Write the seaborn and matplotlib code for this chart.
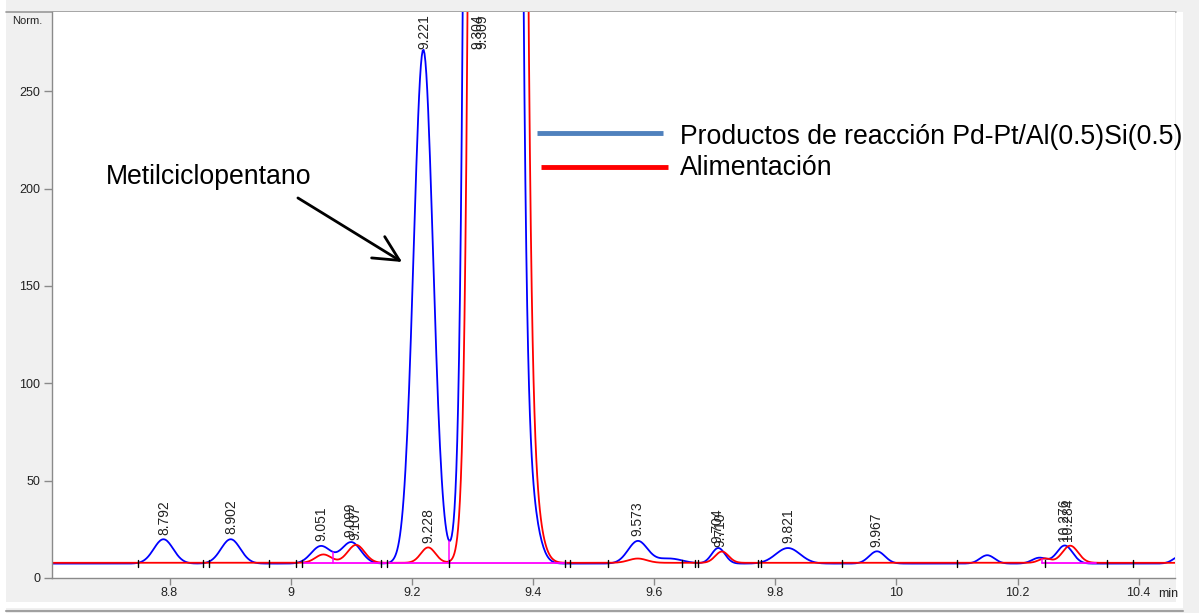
import numpy as np
import pandas as pd
import matplotlib
matplotlib.use("Agg")
import matplotlib.pyplot as plt
from matplotlib.lines import Line2D
from matplotlib.patches import Rectangle
import seaborn as sns

# ---- peak tables (retention time [min], height above baseline, width sigma [min]) ----
blue_rt = [8.790, 8.901, 9.050, 9.100, 9.219, 9.334, 9.390, 9.573, 9.625, 9.706,
           9.821, 9.968, 10.150, 10.236, 10.278, 10.470]
blue_h = [12.5, 12.5, 9.0, 11.0, 264.0, 13400.0, 35.0, 11.5, 2.6, 8.0,
          8.0, 6.3, 4.3, 3.0, 9.3, 4.0]
blue_w = [0.016, 0.016, 0.016, 0.016, 0.016, 0.018, 0.016, 0.016, 0.022, 0.011,
          0.020, 0.013, 0.012, 0.012, 0.013, 0.012]
blue_base = 7.4

red_rt = [9.054, 9.108, 9.227, 9.342, 9.394, 9.573, 9.712, 10.245, 10.287]
red_h = [4.3, 9.2, 7.9, 13400.0, 35.0, 2.2, 5.8, 2.2, 8.8]
red_w = [0.013, 0.014, 0.012, 0.018, 0.016, 0.015, 0.011, 0.010, 0.013]
red_base = 7.8

# retention-time labels printed above the peaks
blue_labels = ["8.792", "8.902", "9.051", "9.099", "9.221", "9.573", "9.704",
               "9.821", "9.967", "10.276"]
red_labels = ["9.107", "9.228", "9.710", "10.284"]
offscale_labels = ["9.304", "9.309"]
offscale_label_x = [9.309, 9.316]

# integration event marks and baseline segments
event_marks = [8.748, 8.855, 8.865, 8.964, 9.009, 9.019, 9.149, 9.159, 9.262,
               9.453, 9.461, 9.524, 9.646, 9.668, 9.673, 9.772, 9.777, 9.910,
               10.100, 10.246, 10.348, 10.391]
baseline_segments = [(9.020, 9.455), (10.241, 10.330)]
drop_lines = [9.070, 9.262]

x_ticks = [8.8, 9.0, 9.2, 9.4, 9.6, 9.8, 10.0, 10.2, 10.4]
y_ticks = [0, 50, 100, 150, 200, 250]

legend_names = ["Productos de reacción Pd-Pt/Al(0.5)Si(0.5)", "Alimentación"]
annotation_text = "Metilciclopentano"

# ---- build the traces ----
t = np.arange(8.600, 10.462, 0.0015)


def trace(base, rts, hs, ws):
    y = np.full_like(t, base)
    for c, h, s in zip(rts, hs, ws):
        y += h * np.exp(-0.5 * ((t - c) / s) ** 2)
    return y


blue_y = trace(blue_base, blue_rt, blue_h, blue_w)
red_y = trace(red_base, red_rt, red_h, red_w)

df = pd.concat([
    pd.DataFrame({"time": t, "signal": blue_y, "trace": "blue"}),
    pd.DataFrame({"time": t, "signal": red_y, "trace": "red"}),
], ignore_index=True)

# ---- figure ----
sns.set_style("white")
plt.rcParams["font.family"] = ["Liberation Sans", "DejaVu Sans"]

W, H = 1199, 613
fig = plt.figure(figsize=(W / 100, H / 100), dpi=100, facecolor="#f0f0f0")


def fx(px):
    return px / W


def fy(py):
    return 1 - py / H


# panel decorations
for (x0, y0, x1, y1) in [(0, 0, 6, 613), (1176, 12, 1183, 608), (6, 602, 1183, 608)]:
    fig.patches.append(Rectangle((fx(x0), fy(y1)), fx(x1) - fx(x0), fy(y0) - fy(y1),
                                 transform=fig.transFigure, facecolor="white",
                                 edgecolor="none", zorder=-5))
fig.lines.append(Line2D([fx(6), fx(1183)], [fy(610.5), fy(610.5)],
                        transform=fig.transFigure, color="#a0a0a0", lw=1.5, zorder=-4))
fig.lines.append(Line2D([fx(6), fx(1176)], [fy(11.5), fy(11.5)],
                        transform=fig.transFigure, color="#999999", lw=1.2, zorder=-4))

ax = fig.add_axes([fx(52), fy(578), fx(1175) - fx(52), fy(12) - fy(578)])
ax.set_facecolor("white")

sns.lineplot(data=df, x="time", y="signal", hue="trace",
             palette={"blue": "#0000ff", "red": "#ff0000"},
             hue_order=["blue", "red"], estimator=None, sort=False,
             legend=False, lw=1.3, ax=ax)

ax.set_xlim(8.606, 10.460)
ax.set_ylim(0, 290.7)

# baseline segments and drop lines of the integrator
for a, b in baseline_segments:
    ax.plot([a, b], [red_base, red_base], color="#ff00ff", lw=1.3, zorder=5)
for d in drop_lines:
    top = np.interp(d, t, blue_y)
    ax.plot([d, d], [red_base, top], color="#ff00ff", lw=1.1, zorder=5)
ax.plot([10.241, 10.241], [red_base, red_base + 2.0], color="#ff00ff", lw=1.1, zorder=5)
for m in event_marks:
    ax.plot([m, m], [red_base - 2.4, red_base + 1.6], color="black", lw=1.0, zorder=6)

# retention-time labels
lab_kw = dict(rotation=90, ha="center", va="bottom", fontsize=10, color="#222222",
              textcoords="offset points", xytext=(0, 3.5), annotation_clip=False)
for lab in blue_labels:
    x0 = float(lab)
    ax.annotate(lab, xy=(x0, np.interp(x0, t, blue_y)), **lab_kw)
for lab in red_labels:
    x0 = float(lab)
    ax.annotate(lab, xy=(x0, np.interp(x0, t, red_y)), **lab_kw)
for lab, x0 in zip(offscale_labels, offscale_label_x):
    ax.annotate(lab, xy=(x0, 269), **lab_kw)

# axes styling
for s in ["top", "right"]:
    ax.spines[s].set_visible(False)
for s in ["left", "bottom"]:
    ax.spines[s].set_color("#8a8a8a")
    ax.spines[s].set_linewidth(1.0)

ax.set_xticks(x_ticks)
ax.set_xticklabels([f"{v:g}" for v in x_ticks])
ax.set_xticks(np.arange(8.65, 10.46, 0.05), minor=True)
ax.set_yticks(y_ticks)
ax.set_yticklabels([str(v) for v in y_ticks])
ax.set_yticks(np.arange(0, 290, 10), minor=True)
ax.tick_params(axis="y", which="major", direction="out", length=6, width=1.0,
               color="#8a8a8a", labelsize=9, labelcolor="#222222", pad=2.5, left=True)
ax.tick_params(axis="x", which="major", direction="out", length=5, width=1.0,
               color="#8a8a8a", labelsize=9, labelcolor="#222222", pad=1.2, bottom=True)
ax.tick_params(axis="both", which="minor", direction="out", length=3.5, width=1.0,
               color="#8a8a8a")
ax.set_xlabel("")
ax.set_ylabel("")
ax.grid(False)

fig.text(fx(27), fy(21), "Norm.", ha="center", va="center", fontsize=8, color="#222222")
fig.text(fx(1158), fy(594), "min", ha="left", va="center", fontsize=9, color="#222222")

# series key
ax.plot([9.407, 9.615], [228.5, 228.5], color="#4f81bd", lw=3.5, clip_on=False,
        solid_capstyle="butt")
ax.plot([9.413, 9.623], [211.0, 211.0], color="#ff0000", lw=3.5, clip_on=False,
        solid_capstyle="butt")
ax.text(9.643, 226.5, legend_names[0], fontsize=19.2, va="center", ha="left",
        color="black", clip_on=False)
ax.text(9.643, 210.6, legend_names[1], fontsize=19.2, va="center", ha="left",
        color="black", clip_on=False)

# compound annotation with its arrow
ax.text(8.695, 206, annotation_text, fontsize=19.2, ha="left", va="center", color="black")
ax.annotate("", xy=(9.184, 162.3), xytext=(9.012, 195.2),
            arrowprops=dict(arrowstyle="->,head_length=0.9,head_width=0.45",
                            color="black", lw=2, mutation_scale=20,
                            shrinkA=0, shrinkB=0),
            annotation_clip=False)

fig.savefig("out.png", dpi=100, facecolor=fig.get_facecolor())
